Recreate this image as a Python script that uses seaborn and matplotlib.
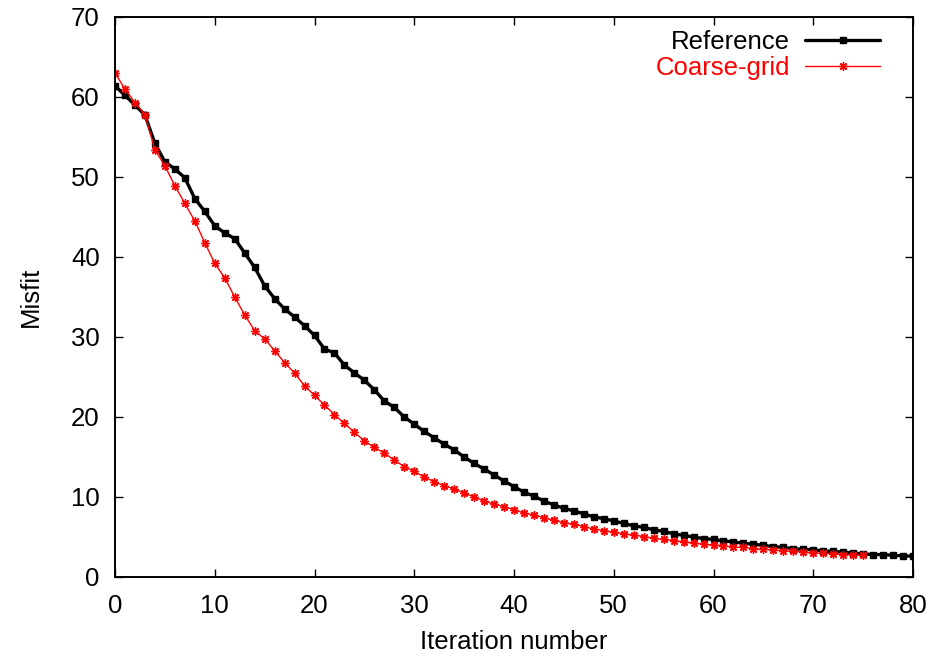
import numpy as np
import pandas as pd
import matplotlib
matplotlib.use("Agg")
import matplotlib.pyplot as plt
import seaborn as sns

reference = [61.4, 60.2, 59.0, 57.75, 54.2, 51.9, 51.0, 49.9, 47.3, 45.7,
             43.9, 43.0, 42.3, 40.5, 38.7, 36.4, 34.8, 33.5, 32.5, 31.4,
             30.2, 28.5, 28.0, 26.5, 25.5, 24.6, 23.4, 22.0, 21.2, 20.0,
             19.1, 18.2, 17.4, 16.6, 15.9, 15.0, 14.2, 13.5, 12.75, 12.0,
             11.3, 10.6, 10.1, 9.5, 9.0, 8.6, 8.25, 7.9, 7.5, 7.3,
             7.0, 6.7, 6.4, 6.2, 5.9, 5.7, 5.4, 5.2, 5.0, 4.8,
             4.7, 4.5, 4.4, 4.2, 4.1, 3.95, 3.8, 3.7, 3.55, 3.45,
             3.4, 3.25, 3.2, 3.1, 3.0, 2.9, 2.8, 2.8, 2.7, 2.65, 2.6]
coarse_grid = [63.0, 61.0, 59.3, 57.8, 53.4, 51.4, 48.9, 46.7, 44.5, 41.8,
               39.2, 37.4, 35.0, 32.75, 30.8, 29.75, 28.3, 26.8, 25.5, 23.9,
               22.7, 21.5, 20.3, 19.2, 18.1, 17.0, 16.2, 15.5, 14.6, 13.8,
               13.2, 12.5, 11.9, 11.4, 11.0, 10.5, 10.0, 9.5, 9.1, 8.8,
               8.4, 8.0, 7.75, 7.4, 7.1, 6.8, 6.6, 6.3, 6.0, 5.8,
               5.6, 5.4, 5.25, 5.05, 4.85, 4.7, 4.55, 4.4, 4.25, 4.1,
               4.0, 3.9, 3.75, 3.7, 3.55, 3.45, 3.4, 3.25, 3.2, 3.1,
               3.0, 2.95, 2.9, 2.8, 2.75, 2.7]
series_names = ["Reference", "Coarse-grid"]
x_ticks = [0, 10, 20, 30, 40, 50, 60, 70, 80]
y_ticks = [0, 10, 20, 30, 40, 50, 60, 70]

df = pd.concat([
    pd.DataFrame({"iter": np.arange(len(reference)), "misfit": reference, "series": series_names[0]}),
    pd.DataFrame({"iter": np.arange(len(coarse_grid)), "misfit": coarse_grid, "series": series_names[1]}),
])

sns.set_style("ticks")
plt.rcParams['font.family'] = ['Liberation Sans', 'DejaVu Sans']
plt.rcParams['text.color'] = 'black'
plt.rcParams['axes.labelcolor'] = 'black'

FS = 18.5
fig = plt.figure(figsize=(9.35, 6.64), dpi=100)
ax = fig.add_axes([115/935, 1 - 577/664, (913-115)/935, (577-17)/664])

styles = {
    "Reference": dict(color="black", lw=2.4, marker="s", ms=5, mew=1.0),
    "Coarse-grid": dict(color="red", lw=1.0, marker=(8, 2, 0), ms=6, mew=1.0),
}
for name in series_names:
    st = styles[name]
    sns.lineplot(data=df[df["series"] == name], x="iter", y="misfit", ax=ax,
                 color=st["color"], linewidth=st["lw"], marker=st["marker"],
                 markersize=st["ms"], markeredgewidth=st["mew"],
                 markeredgecolor=st["color"], markerfacecolor=st["color"],
                 label=name, errorbar=None)

ax.set_xlim(0, 80)
ax.set_ylim(0, 70)
ax.set_xticks(x_ticks)
ax.set_yticks(y_ticks)
ax.tick_params(direction="in", length=6, width=1, top=True, right=True,
               labelsize=FS, colors="black", labelcolor="black")
ax.tick_params(axis="x", pad=12)
ax.tick_params(axis="y", pad=11)
for s in ax.spines.values():
    s.set_linewidth(1.4)
    s.set_color("black")
ax.set_xlabel("Iteration number", fontsize=FS, labelpad=9, color="black")
ax.set_ylabel("Misfit", fontsize=FS, labelpad=20, color="black")

leg = ax.legend(loc="upper right", bbox_to_anchor=(0.9586, 0.976),
                frameon=False, markerfirst=False,
                fontsize=FS, labelcolor=["black", "red"], handlelength=2.9,
                borderaxespad=0, borderpad=0, handletextpad=0.6,
                labelspacing=0.05)

fig.savefig("out.png", dpi=100)
